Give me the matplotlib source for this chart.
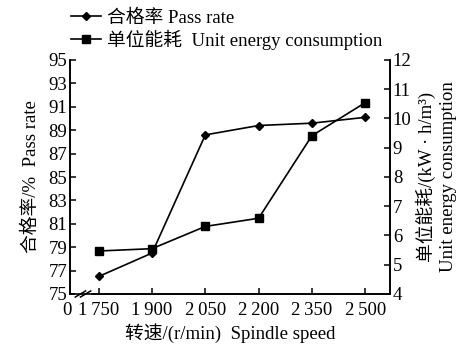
import matplotlib
matplotlib.use("Agg")
import matplotlib.pyplot as plt
from matplotlib.lines import Line2D

plt.rcParams['font.family'] = ['Liberation Serif', 'Noto Sans CJK SC']

speeds = [1750, 1900, 2050, 2200, 2350, 2500]
tick_labels = ['0\u2009', '1\u2009750', '1\u2009900', '2\u2009050', '2\u2009200', '2\u2009350', '2\u2009500']
pass_rate = [76.5, 78.5, 88.6, 89.4, 89.6, 90.1]
energy = [5.47, 5.55, 6.31, 6.59, 9.41, 10.54]
left_ticks = [75, 77, 79, 81, 83, 85, 87, 89, 91, 93, 95]
right_ticks = [4, 5, 6, 7, 8, 9, 10, 11, 12]

fs = 13.5
fig = plt.figure(figsize=(4.69, 3.46), dpi=100)
ax = fig.add_axes([70/469, 52/346, 320/469, 234/346])
ax2 = ax.twinx()

x0 = 1669
ax.set_xlim(x0, 2570)
ax.set_ylim(75, 95)
ax2.set_ylim(4, 12)

l1, = ax.plot(speeds, pass_rate, color='black', lw=1.2, marker='D', ms=4.2, zorder=3)
l2, = ax2.plot(speeds, energy, color='black', lw=1.2, marker='s', ms=6, zorder=3)

ax.set_xticks([x0] + speeds)
ax.set_xticklabels(tick_labels)
ax.set_yticks(left_ticks)
ax2.set_yticks(right_ticks)

for a in (ax, ax2):
    a.spines['top'].set_visible(False)
    for s in a.spines.values():
        s.set_linewidth(1.2)
    a.tick_params(direction='in', length=4, width=1.1, labelsize=fs, pad=2)
ax.tick_params(axis='x', pad=6)
ax.xaxis.get_major_ticks()[0].tick1line.set_visible(False)

ax.set_ylabel('合格率/%  Pass rate', fontsize=fs, labelpad=6)
ax.set_xlabel('转速/(r/min)  Spindle speed', fontsize=fs, labelpad=3)
ax2.set_ylabel('单位能耗/(kW · h/m\u00b3)\nUnit energy consumption', fontsize=fs,
               labelpad=3, linespacing=1.3)

# axis break marks on the x axis
bx = 13/320
ax.plot([bx - 0.02, bx + 0.02], [0, 0], color='white', lw=3, transform=ax.transAxes,
        clip_on=False, zorder=5)
for dx in (-0.008, 0.008):
    ax.plot([bx + dx - 0.016, bx + dx + 0.016], [-0.013, 0.013], color='black', lw=1.1,
            transform=ax.transAxes, clip_on=False, zorder=6)

h1 = Line2D([], [], color='black', lw=1.2, marker='D', ms=4.2)
h2 = Line2D([], [], color='black', lw=1.2, marker='s', ms=6)
fig.legend([h1, h2], ['合格率 Pass rate', '单位能耗  Unit energy consumption'],
           loc='upper left', bbox_to_anchor=(62/469, 1.0), frameon=False, fontsize=fs,
           handlelength=1.6, handletextpad=0.3, labelspacing=0.15, borderaxespad=0.1)

fig.savefig('out.png', dpi=100)
